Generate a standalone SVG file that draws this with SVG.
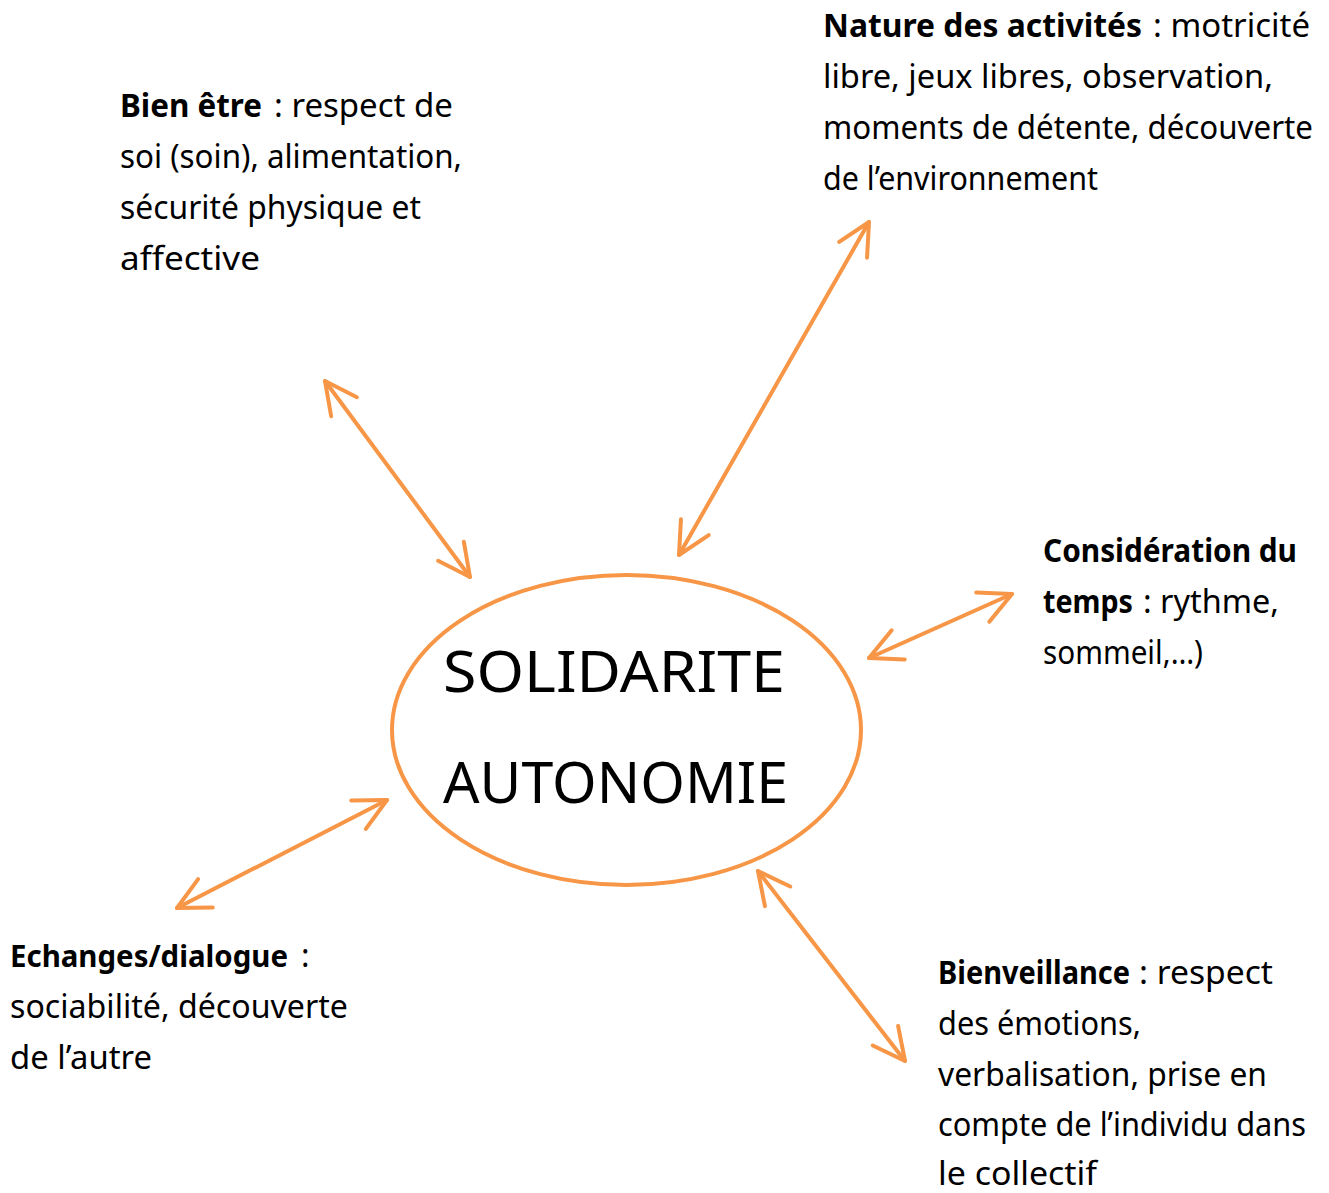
<svg xmlns="http://www.w3.org/2000/svg" width="1329" height="1193" viewBox="0 0 1329 1193">
<style>
.t{font-family:"Comic Sans MS","Noto Sans",sans-serif;font-size:32px;fill:#000}
.b{font-weight:bold}
.big{font-family:"Comic Sans MS","Noto Sans",sans-serif;font-size:56px;fill:#000}
.c{stroke:#F79646;stroke-width:4;fill:none;stroke-linecap:round;marker-start:url(#h);marker-end:url(#h)}
</style>
<defs>
<marker id="h" viewBox="-40 -22 46 44" markerWidth="46" markerHeight="44" refX="0" refY="0" orient="auto-start-reverse" markerUnits="userSpaceOnUse">
<path d="M-32,-16 L0,0 L-32,16" fill="none" stroke="#F79646" stroke-width="4" stroke-linecap="round" stroke-linejoin="round"/>
</marker>
</defs>
<rect width="1329" height="1193" fill="#fff"/>
<g id="connectors">
<line class="c" x1="325" y1="381" x2="470" y2="577"/>
<line class="c" x1="869" y1="222" x2="679" y2="555"/>
<line class="c" x1="1012" y1="594" x2="869" y2="658"/>
<line class="c" x1="387" y1="800" x2="177" y2="908"/>
<line class="c" x1="758" y1="871" x2="905" y2="1061"/>
</g>
<g id="center">
<ellipse cx="626.5" cy="730" rx="234.5" ry="155" fill="none" stroke="#F79646" stroke-width="4"/>
<text class="big" x="443" y="692" textLength="342" lengthAdjust="spacingAndGlyphs">SOLIDARITE</text>
<text class="big" x="443" y="803" textLength="345" lengthAdjust="spacingAndGlyphs">AUTONOMIE</text>
</g>
<g id="bien-etre">
<text class="t b" x="120" y="117" textLength="142" lengthAdjust="spacingAndGlyphs">Bien être</text>
<text class="t" x="274" y="117" textLength="179" lengthAdjust="spacingAndGlyphs">: respect de</text>
<text class="t" x="120" y="168" textLength="342" lengthAdjust="spacingAndGlyphs">soi (soin), alimentation,</text>
<text class="t" x="120" y="219" textLength="301" lengthAdjust="spacingAndGlyphs">sécurité physique et</text>
<text class="t" x="120" y="270" textLength="140" lengthAdjust="spacingAndGlyphs">affective</text>
</g>
<g id="nature">
<text class="t b" x="823" y="37" textLength="319" lengthAdjust="spacingAndGlyphs">Nature des activités</text>
<text class="t" x="1153" y="37" textLength="157" lengthAdjust="spacingAndGlyphs">: motricité</text>
<text class="t" x="823" y="88" textLength="450" lengthAdjust="spacingAndGlyphs">libre, jeux libres, observation,</text>
<text class="t" x="823" y="139" textLength="490" lengthAdjust="spacingAndGlyphs">moments de détente, découverte</text>
<text class="t" x="823" y="190" textLength="275" lengthAdjust="spacingAndGlyphs">de l’environnement</text>
</g>
<g id="consideration">
<text class="t b" x="1043" y="562" textLength="254" lengthAdjust="spacingAndGlyphs">Considération du</text>
<text class="t b" x="1043" y="613" textLength="90" lengthAdjust="spacingAndGlyphs">temps</text>
<text class="t" x="1143" y="613" textLength="136" lengthAdjust="spacingAndGlyphs">: rythme,</text>
<text class="t" x="1043" y="664" textLength="160" lengthAdjust="spacingAndGlyphs">sommeil,…)</text>
</g>
<g id="echanges">
<text class="t b" x="10" y="967" style="font-size:30px" textLength="278" lengthAdjust="spacingAndGlyphs">Echanges/dialogue</text>
<text class="t" x="301" y="967">:</text>
<text class="t" x="10" y="1018" textLength="338" lengthAdjust="spacingAndGlyphs">sociabilité, découverte</text>
<text class="t" x="10" y="1069" textLength="142" lengthAdjust="spacingAndGlyphs">de l’autre</text>
</g>
<g id="bienveillance">
<text class="t b" x="938" y="984" textLength="192" lengthAdjust="spacingAndGlyphs">Bienveillance</text>
<text class="t" x="1139" y="984" textLength="134" lengthAdjust="spacingAndGlyphs">: respect</text>
<text class="t" x="938" y="1035" textLength="203" lengthAdjust="spacingAndGlyphs">des émotions,</text>
<text class="t" x="938" y="1086" textLength="329" lengthAdjust="spacingAndGlyphs">verbalisation, prise en</text>
<text class="t" x="938" y="1136" textLength="368" lengthAdjust="spacingAndGlyphs">compte de l’individu dans</text>
<text class="t" x="938" y="1185" textLength="159" lengthAdjust="spacingAndGlyphs">le collectif</text>
</g>
</svg>
